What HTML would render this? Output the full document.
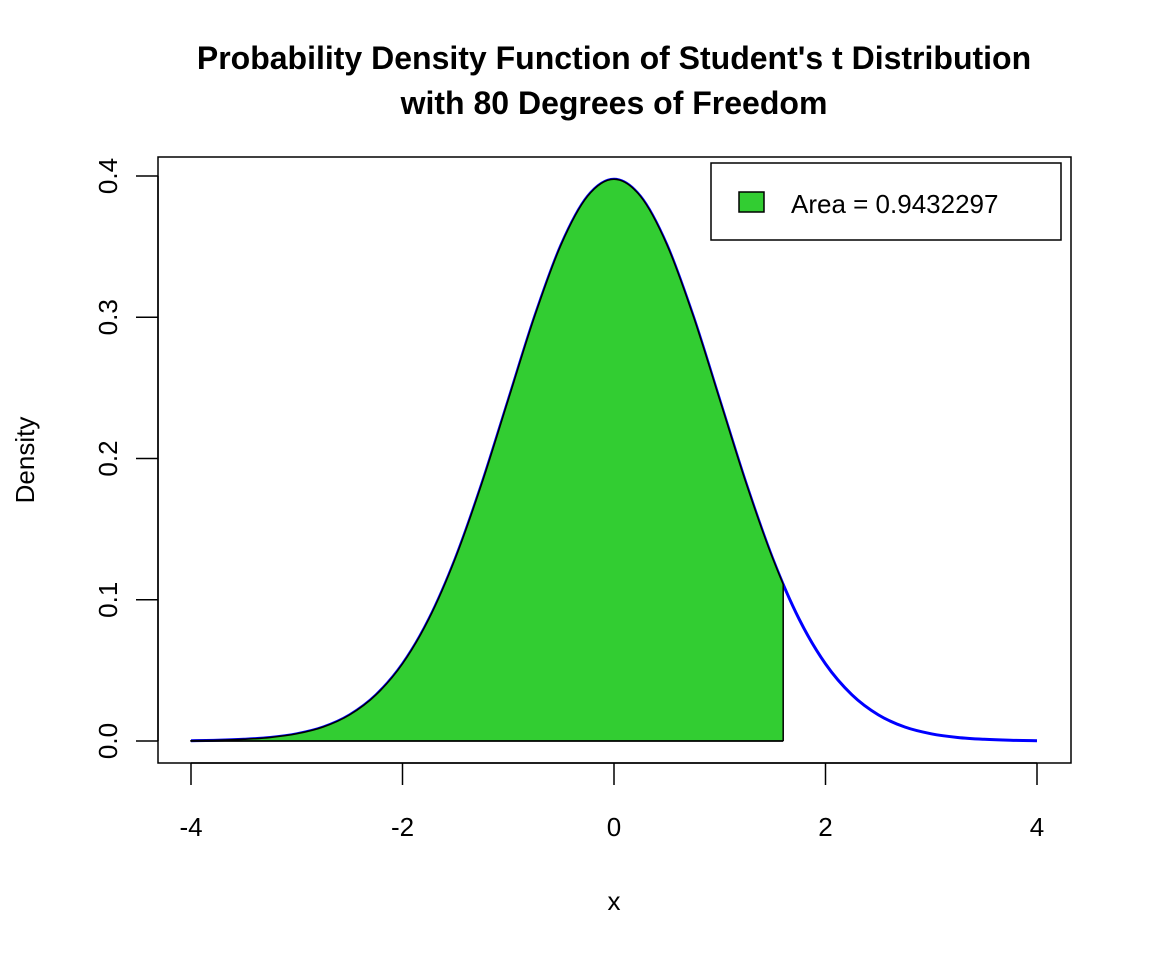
<!DOCTYPE html>
<html><head><meta charset="utf-8"><style>body{margin:0;background:#fff}svg{display:block;font-family:"Liberation Sans",Arial,sans-serif}</style></head>
<body>
<svg id="c" width="1152" height="960"></svg>
<script>
const xVals=[-4,-3.75,-3.5,-3.25,-3,-2.75,-2.5,-2.25,-2,-1.75,-1.5,-1.25,-1,-0.75,-0.5,-0.25,0,0.25,0.5,0.75,1,1.25,1.5,1.75,2,2.25,2.5,2.75,3,3.25,3.5,3.75,4];
const densVals=[0.0002,0.0005,0.0012,0.0025,0.0051,0.0099,0.0185,0.0327,0.0546,0.0864,0.1293,0.1822,0.2414,0.3006,0.3513,0.3856,0.3977,0.3856,0.3513,0.3006,0.2414,0.1822,0.1293,0.0864,0.0546,0.0327,0.0185,0.0099,0.0051,0.0025,0.0012,0.0005,0.0002];
const xTicks=[-4,-2,0,2,4];
const yTicks=[0,0.1,0.2,0.3,0.4];
const yTickLabels=["0.0","0.1","0.2","0.3","0.4"];
const upperBound=1.6;
const areaLabel="Area = 0.9432297";
const NS="http://www.w3.org/2000/svg",svg=document.getElementById('c');
const sx=v=>614+v*105.75, sy=v=>741-v*1412.5;
function mk(t,a,p){const e=document.createElementNS(NS,t);for(const k in a)e.setAttribute(k,a[k]);(p||svg).appendChild(e);return e;}
function txt(s,a){const e=mk('text',a);e.textContent=s;return e;}
// smooth path
const P=xVals.map((x,i)=>[sx(x),sy(densVals[i])]);
let d='M'+P[0][0]+','+P[0][1];
for(let i=0;i<P.length-1;i++){const p0=P[Math.max(i-1,0)],p1=P[i],p2=P[i+1],p3=P[Math.min(i+2,P.length-1)];
d+=` C${p1[0]+(p2[0]-p0[0])/6},${p1[1]+(p2[1]-p0[1])/6} ${p2[0]-(p3[0]-p1[0])/6},${p2[1]-(p3[1]-p1[1])/6} ${p2[0]},${p2[1]}`;}
const defs=mk('defs',{});const cp=mk('clipPath',{id:'cl'},defs);
mk('rect',{x:sx(-4)-1,y:0,width:sx(upperBound)-sx(-4)+1,height:960},cp);
let e;
e=mk('path',{d:d,fill:'none',stroke:'#0000ff','stroke-width':3});

e=mk('path',{d:d+` L${sx(4)},${sy(0)} L${sx(-4)},${sy(0)} Z`,fill:'#32cd32',stroke:'#000','stroke-width':1.5,'clip-path':'url(#cl)'});

mk('line',{x1:sx(upperBound),x2:sx(upperBound),y1:sy(0),y2:sy(0.1115),stroke:'#000','stroke-width':1.5});
mk('line',{x1:sx(-4),x2:sx(upperBound),y1:sy(0),y2:sy(0),stroke:'#000','stroke-width':1.5});
e=mk('rect',{x:158,y:157,width:913,height:606,fill:'none',stroke:'#000','stroke-width':1.5});

xTicks.forEach(t=>{mk('line',{x1:sx(t),x2:sx(t),y1:763,y2:785,stroke:'#000','stroke-width':1.5});
e=txt(String(t),{x:sx(t),y:836,'font-size':26,'text-anchor':'middle'});});
mk('line',{x1:sx(-4),x2:sx(4),y1:763,y2:763,stroke:'#000','stroke-width':1.5});
yTicks.forEach((t,i)=>{mk('line',{x1:158,x2:136,y1:sy(t),y2:sy(t),stroke:'#000','stroke-width':1.5});
e=txt(yTickLabels[i],{x:0,y:0,'font-size':26,'text-anchor':'middle',transform:`translate(117,${sy(t)}) rotate(-90)`});});
mk('line',{x1:158,x2:158,y1:sy(0),y2:sy(0.4),stroke:'#000','stroke-width':1.5});
e=txt('x',{x:614,y:910,'font-size':26,'text-anchor':'middle'});
e=txt('Density',{x:0,y:0,'font-size':26,'text-anchor':'middle',transform:'translate(34,460) rotate(-90)'});
e=txt("Probability Density Function of Student's t Distribution",{x:614,y:69,'font-size':32,'font-weight':'bold','text-anchor':'middle'});
e=txt("with 80 Degrees of Freedom",{x:614,y:114,'font-size':32,'font-weight':'bold','text-anchor':'middle'});
e=mk('rect',{x:711,y:163,width:350,height:77,fill:'#fff',stroke:'#000','stroke-width':1.5});
e=mk('rect',{x:739,y:192,width:25,height:20,fill:'#32cd32',stroke:'#000','stroke-width':1.5});
e=txt(areaLabel,{x:791,y:213,'font-size':26});
</script>
</body></html>
